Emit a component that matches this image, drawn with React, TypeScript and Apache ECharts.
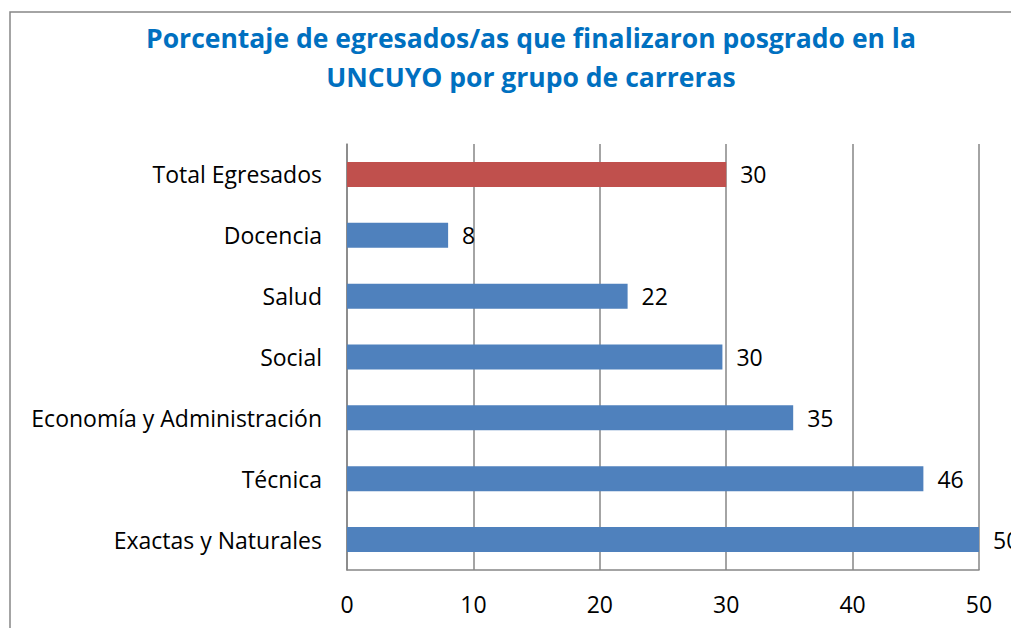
import React, { useEffect, useRef } from "react";
import * as echarts from "echarts";

const categories = [
  "Exactas y Naturales",
  "Técnica",
  "Economía y Administración",
  "Social",
  "Salud",
  "Docencia",
  "Total Egresados",
];
const values = [50, 45.6, 35.3, 29.7, 22.2, 8, 30];
const barColors = ["#4F81BD", "#4F81BD", "#4F81BD", "#4F81BD", "#4F81BD", "#4F81BD", "#C0504D"];
const xTicks = { min: 0, max: 50, interval: 10 };
const titleLines = [
  "Porcentaje de egresados/as que finalizaron posgrado en la",
  "UNCUYO por grupo de carreras",
];

const FONT = "'Open Sans', sans-serif";

export default function App() {
  const ref = useRef<HTMLDivElement>(null);
  useEffect(() => {
    if (!ref.current) return;
    const chart = echarts.init(ref.current, null, { renderer: "svg" });
    chart.setOption({
      animation: false,
      backgroundColor: "#ffffff",
      graphic: [
        {
          type: "rect",
          shape: { x: 10, y: 12, width: 1040, height: 640 },
          style: { fill: "none", stroke: "#868686", lineWidth: 1.5 },
          silent: true,
        },
        {
          type: "text",
          x: 531,
          y: 38,
          style: {
            text: titleLines[0],
            fill: "#0070C0",
            font: `bold 26.5px ${FONT}`,
            textAlign: "center",
            textVerticalAlign: "middle",
          },
        },
        {
          type: "text",
          x: 531,
          y: 77,
          style: {
            text: titleLines[1],
            fill: "#0070C0",
            font: `bold 26.5px ${FONT}`,
            textAlign: "center",
            textVerticalAlign: "middle",
          },
        },
      ],
      grid: { left: 347, right: 32, top: 144, bottom: 58, containLabel: false },
      xAxis: {
        type: "value",
        min: xTicks.min,
        max: xTicks.max,
        interval: xTicks.interval,
        axisLine: { show: true, lineStyle: { color: "#868686", width: 1.5 } },
        axisTick: { show: false },
        splitLine: { show: true, lineStyle: { color: "#868686", width: 1.5 } },
        axisLabel: { color: "#000", fontSize: 23, fontFamily: FONT, margin: 22 },
      },
      yAxis: {
        type: "category",
        data: categories,
        axisLine: { show: true, lineStyle: { color: "#868686", width: 1.5 } },
        axisTick: { show: false },
        axisLabel: { color: "#000", fontSize: 23, fontFamily: FONT, margin: 25 },
      },
      series: [
        {
          type: "bar",
          barWidth: 25,
          data: values.map((v, i) => ({ value: v, itemStyle: { color: barColors[i] } })),
          label: {
            show: true,
            position: "right",
            distance: 14,
            color: "#000",
            fontSize: 23,
            fontFamily: FONT,
            formatter: (p: any) => String(Math.round(p.value)),
          },
        },
      ],
    });
    return () => chart.dispose();
  }, []);
  return (
    <div
      ref={ref}
      style={{ position: "fixed", left: 0, top: 0, width: 1011, height: 628 }}
    />
  );
}
